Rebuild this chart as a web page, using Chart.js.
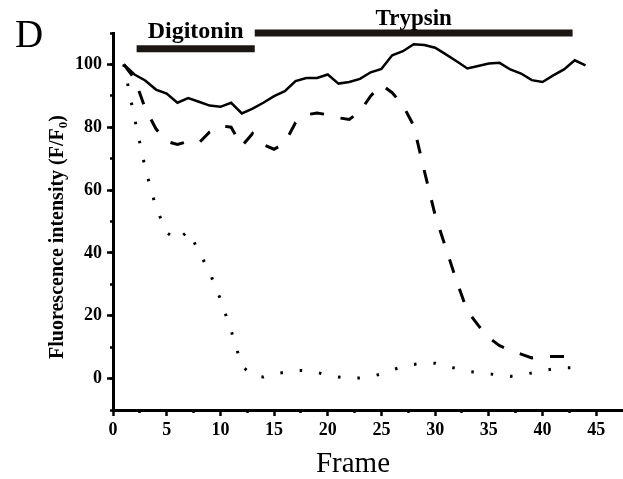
<!DOCTYPE html>
<html>
<head>
<meta charset="utf-8">
<script src="https://cdn.jsdelivr.net/npm/chart.js@4.4.1/dist/chart.umd.min.js"></script>
<style>
  body { margin: 0; background: #fff; }
</style>
</head>
<body>
<canvas id="grafico" width="623" height="479"></canvas>
<script>
/* data */
var frames = [1,2,3,4,5,6,7,8,9,10,11,12,13,14,15,16,17,18,19,20,21,22,
  23,24,25,26,27,28,29,30,31,32,33,34,35,36,37,38,39,40,41,42,43,44];

var solidLine = [100,96.8,94.9,92.0,90.7,87.8,89.3,88.1,86.9,86.5,87.8,84.4,85.9,87.8,
  89.9,91.5,94.7,95.7,95.7,96.8,93.9,94.4,95.4,97.5,98.6,102.9,104.2,106.4,106.2,
  105.3,103.2,101.0,98.7,99.5,100.3,100.5,98.4,97.1,95.0,94.4,96.5,98.4,101.3,99.7];

var dashedLine = [100,95.5,86,79.5,75.5,74.5,75.5,75,78.5,80.5,80,74,78,74.5,73,75,
  81.5,84,84.5,84,83,82.5,85,90,93.5,91,87,80.5,66,52,41.5,31,21.5,17,13,10.5,9,
  7.8,6.6,7,7,7,7.5];

var dottedLine = [100,83,67,54.5,46.5,44,47,40.5,33.8,25.3,15.3,4,1,0.5,1.5,2,2.6,
  2.5,2,1,0.5,0,0.2,0.6,1.5,2.8,3.8,4.5,5,4.9,4,3.2,2.3,1.9,1.5,1.1,0.7,1.2,1.8,
  2.5,3.1,3.4,3.5];

var digitoninFrames = [2.2, 13.2];
var trypsinFrames = [13.2, 42.8];

var yTickLabels = [0, 20, 40, 60, 80, 100];
var yMinorTicks = [-10, 0, 10, 20, 30, 40, 50, 60, 70, 80, 90, 100, 110];
var xTickLabels = [0, 5, 10, 15, 20, 25, 30, 35, 40, 45];
var xMinorTicks = [2.5, 7.5, 12.5, 17.5, 22.5, 27.5, 32.5, 37.5, 42.5];

/* level of the treatment bars above the traces */
var digitoninLevel = 105;
var trypsinLevel = 110;

var serif = '"Liberation Serif", "Times New Roman", serif';

function points(values) {
  var out = [];
  for (var i = 0; i < values.length; i++) {
    out.push({x: frames[i], y: values[i]});
  }
  return out;
}

function barPoints(range, level) {
  return [{x: range[0], y: level}, {x: range[1], y: level}];
}

function setTicks(list) {
  return function(scale) {
    scale.ticks = list.map(function(v) { return {value: v}; });
  };
}

/* texts: panel letter, treatment names, axis titles */
var texts = {
  id: 'texts',
  afterDraw: function(chart) {
    var ctx = chart.ctx;
    var sx = chart.scales.x, sy = chart.scales.y;
    ctx.save();
    ctx.fillStyle = '#000';
    ctx.textBaseline = 'alphabetic';

    ctx.font = '39px ' + serif;
    ctx.textAlign = 'left';
    ctx.fillText('D', 15, 47);

    ctx.font = 'bold 24px ' + serif;
    ctx.textAlign = 'center';
    ctx.fillText('Digitonin',
      sx.getPixelForValue((digitoninFrames[0] + digitoninFrames[1]) / 2),
      sy.getPixelForValue(digitoninLevel) - 11);
    ctx.font = 'bold 23px ' + serif;
    ctx.fillText('Trypsin',
      sx.getPixelForValue((trypsinFrames[0] + trypsinFrames[1]) / 2),
      sy.getPixelForValue(trypsinLevel) - 8.5);

    ctx.font = '29px ' + serif;
    ctx.fillText('Frame', 353, 472);

    // y title with subscript 0
    var main = 'Fluorescence intensity (F/F';
    ctx.font = 'bold 20px ' + serif;
    var w1 = ctx.measureText(main).width;
    var w3 = ctx.measureText(')').width;
    ctx.font = 'bold 13px ' + serif;
    var w2 = ctx.measureText('0').width;
    var total = w1 + w2 + w3;
    ctx.translate(63, 237);
    ctx.rotate(-Math.PI / 2);
    ctx.textAlign = 'left';
    ctx.font = 'bold 20px ' + serif;
    ctx.fillText(main, -total / 2, 0);
    ctx.font = 'bold 13px ' + serif;
    ctx.fillText('0', -total / 2 + w1, 4);
    ctx.font = 'bold 20px ' + serif;
    ctx.fillText(')', -total / 2 + w1 + w2, 0);
    ctx.restore();
  }
};

var tickFont = {family: serif, size: 18, weight: 'bold'};

var ctx = document.getElementById('grafico');
var chart = new Chart(ctx, {
  type: 'line',
  data: {
    datasets: [
      {
        data: points(solidLine),
        borderColor: '#000',
        borderWidth: 2.5,
        pointRadius: 0,
        tension: 0
      },
      {
        data: points(dashedLine),
        borderColor: '#000',
        borderWidth: 3,
        borderDash: [14, 17],
        pointRadius: 0,
        tension: 0
      },
      {
        data: points(dottedLine),
        borderColor: '#000',
        borderWidth: 3,
        borderDash: [2.5, 17],
        pointRadius: 0,
        tension: 0
      },
      {
        data: barPoints(digitoninFrames, digitoninLevel),
        borderColor: '#1c1612',
        borderWidth: 7,
        borderCapStyle: 'butt',
        pointRadius: 0,
        clip: false
      },
      {
        data: barPoints(trypsinFrames, trypsinLevel),
        borderColor: '#1c1612',
        borderWidth: 7,
        borderCapStyle: 'butt',
        pointRadius: 0,
        clip: false
      }
    ]
  },
  options: {
    responsive: false,
    animation: false,
    devicePixelRatio: 1,
    layout: {padding: {top: 33, right: 1, left: 0, bottom: 0}},
    plugins: {legend: {display: false}, tooltip: {enabled: false}},
    scales: {
      x: {
        type: 'linear',
        position: 'bottom',
        weight: 1,
        min: 0,
        max: 47.4,
        afterBuildTicks: setTicks(xTickLabels),
        afterFit: function(s) { s.height = 69; },
        border: {color: '#000', width: 3},
        grid: {drawOnChartArea: false, tickLength: 6, tickWidth: 2.5, tickColor: '#000'},
        ticks: {color: '#000', font: tickFont, padding: 4, autoSkip: false, maxRotation: 0}
      },
      x2: {
        type: 'linear',
        position: 'bottom',
        weight: 0,
        min: 0,
        max: 47.4,
        afterBuildTicks: setTicks(xMinorTicks),
        afterFit: function(s) { s.height = 0; },
        border: {display: false},
        grid: {drawOnChartArea: false, tickLength: 3, tickWidth: 2.5, tickColor: '#000'},
        ticks: {display: false, autoSkip: false}
      },
      y: {
        type: 'linear',
        position: 'left',
        weight: 1,
        min: -10,
        max: 110,
        afterBuildTicks: setTicks(yTickLabels),
        afterFit: function(s) { s.width = 113; },
        border: {color: '#000', width: 3},
        grid: {drawOnChartArea: false, tickLength: 6, tickWidth: 2.5, tickColor: '#000'},
        ticks: {color: '#000', font: tickFont, padding: 5, autoSkip: false}
      },
      y2: {
        type: 'linear',
        position: 'left',
        weight: 0,
        min: -10,
        max: 110,
        afterBuildTicks: setTicks(yMinorTicks),
        afterFit: function(s) { s.width = 0; },
        border: {display: false},
        grid: {drawOnChartArea: false, tickLength: 3, tickWidth: 2.5, tickColor: '#000'},
        ticks: {display: false, autoSkip: false}
      }
    }
  },
  plugins: [texts]
});
</script>
</body>
</html>
